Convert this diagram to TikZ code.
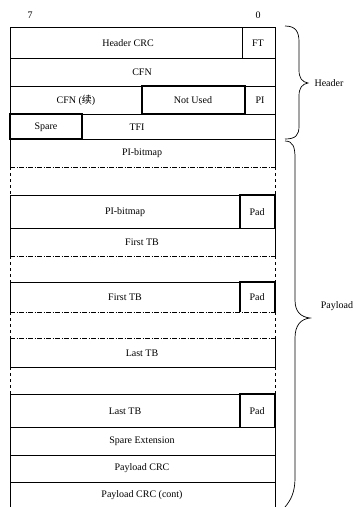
\documentclass[tikz,border=0pt]{standalone}
\usepackage{fontspec}
\setmainfont{Liberation Serif}
\newfontfamily\cjk{Noto Sans CJK SC}
\begin{document}
\begin{tikzpicture}[x=1pt,y=-1pt,line width=0.7pt,
  font=\fontsize{10}{12}\selectfont,
  lbl/.style={inner sep=0pt,anchor=center},
  boldbox/.style={line width=1.1pt},
  gapline/.style={dash pattern=on 5pt off 1.5pt on 1pt off 1.5pt},
  gapvert/.style={dash pattern=on 3pt off 3pt}]
\useasboundingbox (0,0) rectangle (356,507);
% bit labels
\node[lbl] (b7) at (30,15) {7};
\node[lbl] (b0) at (258,15) {0};
% outer verticals
\foreach \a/\b in {27/167,195/256,282/312,338/367,394/507}{
  \draw (10,\a) -- (10,\b); \draw (275,\a) -- (275,\b);}
\foreach \a/\b in {167/195,256/282,312/338,367/394}{
  \draw[gapvert] (10,\a) -- (10,\b); \draw[gapvert] (275,\a) -- (275,\b);}
% solid horizontals
\foreach \y in {27,58,86,114,139,195,228,282,367,394,427,455,482}{
  \draw (10,\y) -- (275,\y);}
% dash-dot horizontals
\foreach \y in {167,256,312,338}{
  \draw[gapline] (10,\y) -- (275,\y);}
% header fields
\draw (242,27) -- (242,58);
\draw[boldbox] (142,86) rectangle (245,114);
\draw[boldbox] (10,114) rectangle (82,139);
% pads
\draw[boldbox] (240,228) -- (240,195) -- (275,195) -- (275,228);
\draw[boldbox] (240,312) -- (240,282) -- (275,282) -- (275,312);
\draw[boldbox] (240,427) -- (240,394) -- (275,394) -- (275,427);
% texts
\node[lbl] (hcrc) at (128,43) {Header CRC};
\node[lbl] (ft) at (258,43) {FT};
\node[lbl] (cfn) at (142,72) {CFN};
\node[lbl] (cfnc) at (76,100) {CFN ({\cjk 续})};
\node[lbl] (nu) at (193,100) {Not Used};
\node[lbl] (pi) at (260,100) {PI};
\node[lbl] (spare) at (46,127) {Spare};
\node[lbl] (tfi) at (137,127) {TFI};
\node[lbl] (pib1) at (142,153) {PI-bitmap};
\node[lbl] (pib2) at (125,212) {PI-bitmap};
\node[lbl] (pad1) at (257,212) {Pad};
\node[lbl] (ftb1) at (142,242) {First TB};
\node[lbl] (ftb2) at (125,297) {First TB};
\node[lbl] (pad2) at (257,297) {Pad};
\node[lbl] (ltb1) at (142,353) {Last TB};
\node[lbl] (ltb2) at (125,411) {Last TB};
\node[lbl] (pad3) at (257,411) {Pad};
\node[lbl] (spx) at (142,441) {Spare Extension};
\node[lbl] (pcrc) at (142,468) {Payload CRC};
\node[lbl] (pcrc2) at (142,495) {Payload CRC (cont)};
% braces
\draw (285,26) .. controls (296,26) and (299,32) .. (299,42) -- (299,70)
  .. controls (299,78) and (302,82) .. (308,83)
  .. controls (302,84) and (299,88) .. (299,96) -- (299,126)
  .. controls (299,135) and (296,139) .. (285,139);
\draw (285,141) .. controls (293,141) and (295,147) .. (295,158) -- (295,300)
  .. controls (295,312) and (301,317) .. (310,318)
  .. controls (301,319) and (295,325) .. (295,338) -- (295,478)
  .. controls (295,492) and (291,500) .. (285,507);
\node[lbl] (hdr) at (329,83) {Header};
\node[lbl] (pay) at (337,306) {Payload};
\end{tikzpicture}
\end{document}
